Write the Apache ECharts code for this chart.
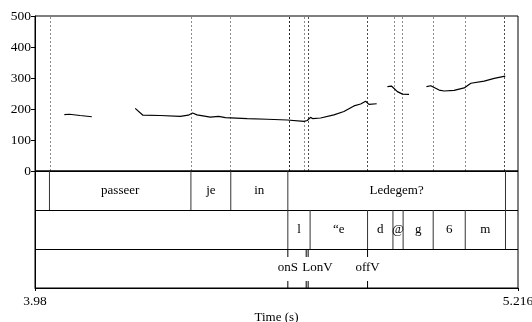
<!DOCTYPE html>
<html><head><meta charset="utf-8">
<script src="https://cdn.jsdelivr.net/npm/echarts@6/dist/echarts.min.js"></script>
<style>html,body{margin:0;padding:0;background:#fff}#c{width:532px;height:322px}</style>
</head><body><div id="c"></div>
<script>
const xMin = 3.98, xMax = 5.216;
const yTickMax = 500, yTickStep = 100;
const timeLabels = [3.98, 5.216];

const pitchSeg1 = [[4.0551,182],[4.0679,183],[4.0954,179],[4.1254,175]];
const pitchSeg2 = [[4.2364,202],[4.2562,180],[4.3005,179],[4.3518,176],[4.3723,180],[4.3833,187],[4.3946,181],[4.4287,174],[4.4500,176],[4.4672,172],[4.5228,169],[4.5741,167],[4.6254,164.5],[4.6685,160],[4.6767,163],[4.6851,173],[4.6903,169],[4.7108,171],[4.7449,181],[4.7705,192],[4.7962,210],[4.8133,216],[4.8262,225],[4.8346,215],[4.8544,217]];
const pitchSeg3 = [[4.8818,272],[4.8921,274],[4.9074,256],[4.9203,248],[4.9372,247]];
const pitchSeg4 = [[4.9818,272],[4.9928,275],[5.0141,261],[5.0269,258],[5.0526,260],[5.0782,268],[5.0954,283],[5.1295,290],[5.1551,299],[5.1833,306]];

const tier1Bounds = [3.98, 4.017, 4.379, 4.481, 4.627, 5.184, 5.216];
const tier1Labels = ["", "passeer", "je", "in", "Ledegem?", ""];
const tier2Bounds = [3.98, 4.627, 4.684, 4.831, 4.896, 4.922, 4.999, 5.081, 5.184, 5.216];
const tier2Labels = ["", "l", "\u201ce", "d", "@", "g", "6", "m", ""];
const tier3Times = [4.627, 4.674, 4.679, 4.831];
const tier3Labels = ["onS", "L", "onV", "offV"];

const FONT = '"Liberation Serif","Times New Roman",serif';
const measureCtx = document.createElement('canvas').getContext('2d');
measureCtx.font = '13px ' + FONT;

function intervalData(bounds, row) {
  const d = [];
  for (let i = 0; i < bounds.length - 1; i++) d.push([bounds[i], bounds[i+1], row]);
  return d;
}
function intervalSeries(bounds, labels, row) {
  return {
    type: 'custom', xAxisIndex: 1, yAxisIndex: 1, silent: true,
    encode: {x: [0, 1], y: 2},
    data: intervalData(bounds, row),
    renderItem: function (params, api) {
      const s = api.value(0), e = api.value(1), r = api.value(2);
      const pTop = api.coord([s, r + 1]);
      const pBot = api.coord([e, r]);
      const children = [];
      if (s > xMin + 1e-9) {
        children.push({type: 'line', shape: {x1: pTop[0], y1: pTop[1], x2: pTop[0], y2: pBot[1]},
          style: {stroke: '#333', lineWidth: 1}});
      }
      const lbl = labels[params.dataIndex];
      if (lbl) {
        children.push({type: 'text', style: {text: lbl, x: (pTop[0] + pBot[0]) / 2, y: (pTop[1] + pBot[1]) / 2,
          align: 'center', verticalAlign: 'middle', fontSize: 13, fontFamily: FONT, fill: '#000'}});
      }
      return {type: 'group', children: children};
    }
  };
}

let lastRight = -1e9;
const pointSeries = {
  type: 'custom', xAxisIndex: 1, yAxisIndex: 1, silent: true,
  encode: {x: 0, y: 1},
  data: tier3Times.map(t => [t, 0]),
  renderItem: function (params, api) {
    if (params.dataIndex === 0) lastRight = -1e9;
    const t = api.value(0);
    const pb = api.coord([t, 0]);
    const pt = api.coord([t, 1]);
    const lbl = tier3Labels[params.dataIndex];
    const w = measureCtx.measureText(lbl).width;
    let left = pb[0] - w / 2;
    if (left < lastRight) left = lastRight;
    lastRight = left + w;
    return {type: 'group', children: [
      {type: 'line', shape: {x1: pb[0], y1: pt[1], x2: pb[0], y2: pt[1] + 8}, style: {stroke: '#000', lineWidth: 1}},
      {type: 'line', shape: {x1: pb[0], y1: pb[1] - 7, x2: pb[0], y2: pb[1]}, style: {stroke: '#000', lineWidth: 1}},
      {type: 'text', style: {text: lbl, x: left, y: (pt[1] + pb[1]) / 2 - 1, align: 'left', verticalAlign: 'middle',
        fontSize: 13, fontFamily: FONT, fill: '#000'}}
    ]};
  }
};

const markTimes = [].concat(tier1Bounds.slice(1, -1), tier2Bounds.slice(1, -1), tier3Times);

function pitchLine(seg, withMarks) {
  const s = {
    type: 'line', xAxisIndex: 0, yAxisIndex: 0, data: seg, showSymbol: false, symbol: 'none',
    lineStyle: {color: '#000', width: 1.2}, silent: true
  };
  if (withMarks) {
    s.markLine = {
      silent: true, symbol: ['none', 'none'], label: {show: false},
      lineStyle: {color: 'rgba(0,0,0,0.45)', type: [2, 2], width: 1},
      data: markTimes.map(v => ({xAxis: v}))
    };
  }
  return s;
}

const chart = echarts.init(document.getElementById('c'), null, {renderer: 'canvas'});
chart.setOption({
  animation: false,
  backgroundColor: '#fff',
  grid: [
    {left: 35, right: 14, top: 16, height: 155, show: true, borderColor: '#000', borderWidth: 1, backgroundColor: 'transparent', containLabel: false, outerBoundsMode: 'none'},
    {left: 35, right: 14, top: 171, height: 117, show: true, borderColor: '#000', borderWidth: 1, backgroundColor: 'transparent', containLabel: false, outerBoundsMode: 'none'}
  ],
  xAxis: [
    {type: 'value', gridIndex: 0, min: xMin, max: xMax, show: false},
    {type: 'value', gridIndex: 1, min: xMin, max: xMax, position: 'bottom',
      axisLine: {show: true, lineStyle: {color: '#000', width: 1}},
      axisTick: {show: true, length: 3, customValues: timeLabels, lineStyle: {color: '#000'}},
      axisLabel: {show: true, customValues: timeLabels, margin: 6, color: '#000', fontSize: 13.5, fontFamily: FONT,
        formatter: v => String(v)},
      splitLine: {show: false},
      name: 'Time (s)', nameLocation: 'middle', nameGap: 23,
      nameTextStyle: {color: '#000', fontSize: 13, fontFamily: FONT}}
  ],
  yAxis: [
    {type: 'value', gridIndex: 0, min: 0, max: yTickMax, interval: yTickStep,
      axisLine: {show: true, lineStyle: {color: '#000', width: 1}},
      axisTick: {show: true, length: 4, lineStyle: {color: '#000'}},
      axisLabel: {margin: 4, color: '#000', fontSize: 13.5, fontFamily: FONT},
      splitLine: {show: false}},
    {type: 'value', gridIndex: 1, min: 0, max: 3, interval: 1,
      axisLine: {show: true, lineStyle: {color: '#000', width: 1}},
      axisTick: {show: false}, axisLabel: {show: false},
      splitLine: {show: true, lineStyle: {color: '#000', width: 1}}}
  ],
  series: [
    pitchLine(pitchSeg1, true),
    pitchLine(pitchSeg2, false),
    pitchLine(pitchSeg3, false),
    pitchLine(pitchSeg4, false),
    intervalSeries(tier1Bounds, tier1Labels, 2),
    intervalSeries(tier2Bounds, tier2Labels, 1),
    pointSeries
  ]
});
</script></body></html>
